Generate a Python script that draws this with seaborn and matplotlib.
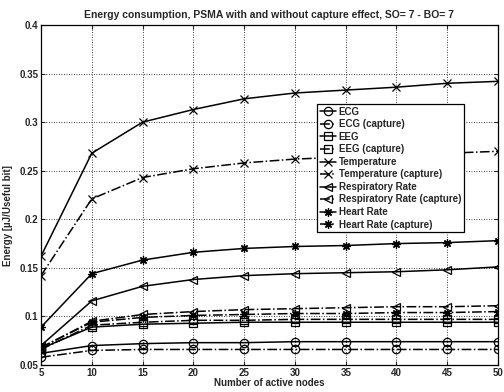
import matplotlib
matplotlib.use("Agg")
import matplotlib.pyplot as plt
import seaborn as sns
import pandas as pd

nodes = [5, 10, 15, 20, 25, 30, 35, 40, 45, 50]

ecg = [0.062, 0.070, 0.072, 0.073, 0.073, 0.074, 0.074, 0.074, 0.074, 0.074]
ecg_cap = [0.058, 0.065, 0.066, 0.066, 0.066, 0.066, 0.066, 0.066, 0.066, 0.066]
eeg = [0.067, 0.089, 0.092, 0.093, 0.094, 0.094, 0.094, 0.094, 0.094, 0.094]
eeg_cap = [0.066, 0.091, 0.094, 0.096, 0.096, 0.097, 0.097, 0.097, 0.097, 0.097]
temp = [0.162, 0.268, 0.300, 0.313, 0.324, 0.330, 0.333, 0.336, 0.340, 0.342]
temp_cap = [0.142, 0.221, 0.243, 0.252, 0.258, 0.262, 0.264, 0.266, 0.268, 0.270]
resp = [0.070, 0.116, 0.131, 0.138, 0.142, 0.144, 0.145, 0.146, 0.148, 0.151]
resp_cap = [0.068, 0.095, 0.102, 0.105, 0.107, 0.108, 0.109, 0.110, 0.110, 0.111]
heart = [0.089, 0.144, 0.158, 0.166, 0.170, 0.172, 0.173, 0.175, 0.176, 0.178]
heart_cap = [0.068, 0.094, 0.099, 0.101, 0.102, 0.103, 0.103, 0.104, 0.104, 0.105]

labels = ["ECG", "ECG (capture)", "EEG", "EEG (capture)", "Temperature",
          "Temperature (capture)", "Respiratory Rate", "Respiratory Rate (capture)",
          "Heart Rate", "Heart Rate (capture)"]
series = [ecg, ecg_cap, eeg, eeg_cap, temp, temp_cap, resp, resp_cap, heart, heart_cap]
markers = ["o", "o", "s", "s", "x", "x", "<", "<", (8, 2, 0), (8, 2, 0)]
styles = ["-", "-.", "-", "-.", "-", "-.", "-", "-.", "-", "-."]

sns.set_style("white")
plt.rcParams["font.family"] = ["Liberation Sans", "DejaVu Sans"]
plt.rcParams["font.weight"] = "bold"

fig = plt.figure(figsize=(5.04, 3.92), dpi=100)
ax = fig.add_axes([41 / 504, 27 / 392, 457 / 504, 340 / 392])

for lab, vals, mk, ls in zip(labels, series, markers, styles):
    df = pd.DataFrame({"nodes": nodes, "energy": vals})
    sns.lineplot(data=df, x="nodes", y="energy", ax=ax, color="black",
                 linestyle=ls, linewidth=1.1, marker=mk, markersize=6,
                 markerfacecolor="none", markeredgecolor="black",
                 markeredgewidth=0.9, label=lab)

ax.set_xlim(5, 50)
ax.set_ylim(0.05, 0.4)
ax.set_xticks(nodes)
yt = [0.05, 0.1, 0.15, 0.2, 0.25, 0.3, 0.35, 0.4]
ax.set_yticks(yt)
ax.set_yticklabels([f"{v:g}" for v in yt])
ax.grid(True, color="black", linestyle=(0, (1, 2)), linewidth=0.6)
ax.tick_params(direction="in", length=3, width=0.8, labelsize=7, pad=2,
               top=True, right=True, bottom=True, left=True)
for lbl in ax.get_xticklabels() + ax.get_yticklabels():
    lbl.set_fontweight("bold")
for sp in ax.spines.values():
    sp.set_color("black")
    sp.set_linewidth(0.9)
    sp.set_visible(True)

ax.set_title("Energy consumption, PSMA with and without capture effect, SO= 7 - BO= 7",
             fontsize=7.5, fontweight="bold", pad=5)
ax.set_xlabel("Number of active nodes", fontsize=7, fontweight="bold", labelpad=0)
ax.set_ylabel("Energy [µJ/Useful bit]", fontsize=7, fontweight="bold")
ax.yaxis.set_label_coords(-0.062, 0.44)

leg = ax.legend(loc="upper right", bbox_to_anchor=(0.926, 0.768), fontsize=7,
                frameon=True, fancybox=False, framealpha=1, edgecolor="black",
                handlelength=1.6, handletextpad=0.3, labelspacing=0.26,
                borderpad=0.3, borderaxespad=0)
leg.get_frame().set_linewidth(0.9)
for t in leg.get_texts():
    t.set_fontweight("bold")

fig.savefig("out.png", dpi=100, facecolor="white")
